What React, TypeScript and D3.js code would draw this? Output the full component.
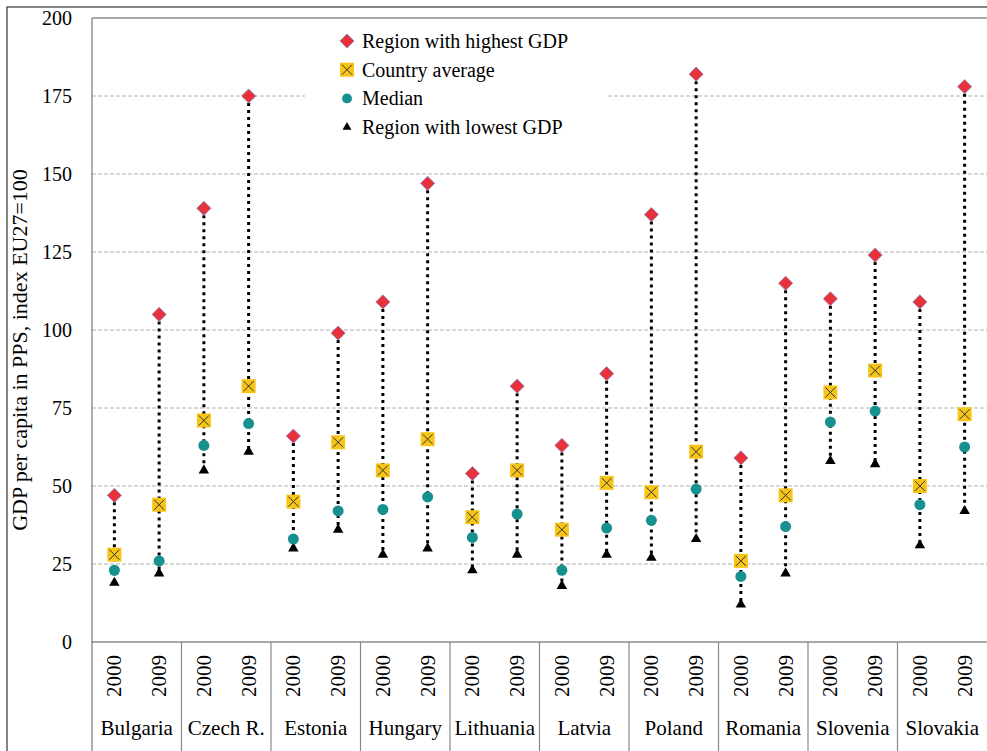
import React, { useRef, useEffect } from 'react';
import * as d3 from 'd3';

const countries = ['Bulgaria', 'Czech R.', 'Estonia', 'Hungary', 'Lithuania', 'Latvia', 'Poland', 'Romania', 'Slovenia', 'Slovakia'];
const years = ['2000', '2009'];
const highest = [47, 105, 139, 175, 66, 99, 109, 147, 54, 82, 63, 86, 137, 182, 59, 115, 110, 124, 109, 178];
const average = [28, 44, 71, 82, 45, 64, 55, 65, 40, 55, 36, 51, 48, 61, 26, 47, 80, 87, 50, 73];
const median = [23, 26, 63, 70, 33, 42, 42.5, 46.5, 33.5, 41, 23, 36.5, 39, 49, 21, 37, 70.5, 74, 44, 62.5];
const lowest = [19, 22, 55, 61, 30, 36, 28, 30, 23, 28, 18, 28, 27, 33, 12, 22, 58, 57, 31, 42];
const yTicks = [0, 25, 50, 75, 100, 125, 150, 175, 200];
const legendItems = ['Region with highest GDP', 'Country average', 'Median', 'Region with lowest GDP'];

const W = 987;
const H = 751;
const FONT = '"Liberation Serif", serif';
const RED = '#e8313a';
const GOLD = '#f7c518';
const TEAL = '#17918f';

const App = () => {
  const svgRef = useRef<SVGSVGElement>(null);

  useEffect(() => {
    const svg = d3.select(svgRef.current);
    svg.selectAll('*').remove();

    const left = 92;
    const right = 987;
    const top = 18;
    const bottom = 642;

    const keys = countries.flatMap((c) => years.map((y) => `${c}|${y}`));
    const x = d3.scaleBand<string>().domain(keys).range([left, right]);
    const xc = d3.scaleBand<string>().domain(countries).range([left, right]);
    const y = d3.scaleLinear().domain([0, 200]).range([bottom, top]);
    const cx = (i: number) => (x(keys[i]) as number) + x.bandwidth() / 2;

    // outer frame
    svg.append('rect').attr('x', 7).attr('y', 7).attr('width', W).attr('height', H)
      .attr('fill', 'none').attr('stroke', '#333').attr('stroke-width', 1.2);

    // grid
    svg.append('g').selectAll('line').data(yTicks.filter((t) => t > 0 && t < 200)).join('line')
      .attr('x1', left).attr('x2', right)
      .attr('y1', (d) => y(d)).attr('y2', (d) => y(d))
      .attr('stroke', '#b0b0b0').attr('stroke-width', 1).attr('stroke-dasharray', '4,2');

    // plot frame top
    svg.append('line').attr('x1', left).attr('x2', right).attr('y1', top).attr('y2', top)
      .attr('stroke', '#555').attr('stroke-width', 1.2);

    // y ticks labels
    svg.append('g').selectAll('text').data(yTicks).join('text')
      .attr('x', 72).attr('y', (d) => y(d) + 7)
      .attr('text-anchor', 'end').attr('font-family', FONT).attr('font-size', 20)
      .text((d) => d);

    // y title
    svg.append('text')
      .attr('transform', `translate(27, ${(top + bottom) / 2 + 20}) rotate(-90)`)
      .attr('text-anchor', 'middle').attr('font-family', FONT).attr('font-size', 22)
      .text('GDP per capita in PPS, index EU27=100');

    // axes
    svg.append('line').attr('x1', left).attr('x2', left).attr('y1', top).attr('y2', H)
      .attr('stroke', '#777').attr('stroke-width', 1.2);
    svg.append('line').attr('x1', left).attr('x2', right).attr('y1', bottom).attr('y2', bottom)
      .attr('stroke', '#555').attr('stroke-width', 1.2);
    svg.append('g').selectAll('line').data(countries.slice(1)).join('line')
      .attr('x1', (d) => xc(d) as number).attr('x2', (d) => xc(d) as number)
      .attr('y1', bottom).attr('y2', H)
      .attr('stroke', '#888').attr('stroke-width', 1.2);

    // year labels
    svg.append('g').selectAll('text').data(keys).join('text')
      .attr('transform', (d) => `translate(${(x(d) as number) + x.bandwidth() / 2 + 7}, 655) rotate(-90)`)
      .attr('text-anchor', 'end').attr('font-family', FONT).attr('font-size', 21)
      .text((d) => d.split('|')[1]);

    // country labels
    svg.append('g').selectAll('text').data(countries).join('text')
      .attr('x', (d) => (xc(d) as number) + xc.bandwidth() / 2).attr('y', 735)
      .attr('text-anchor', 'middle').attr('font-family', FONT).attr('font-size', 21)
      .text((d) => d);

    // legend box
    svg.append('rect').attr('x', 305).attr('y', top + 1).attr('width', 302).attr('height', 121)
      .attr('fill', '#fff');

    const g = svg.append('g');
    const idx = d3.range(keys.length);

    // connecting dotted lines
    g.selectAll('line.range').data(idx).join('line')
      .attr('x1', cx).attr('x2', cx)
      .attr('y1', (i) => y(highest[i])).attr('y2', (i) => y(lowest[i]))
      .attr('stroke', '#000').attr('stroke-width', 3).attr('stroke-dasharray', '3,4');

    const tri = d3.symbol().type(d3.symbolTriangle).size(48);
    const drawLow = (sel: any) => sel.append('path').attr('d', tri()).attr('fill', '#000');
    const drawMed = (sel: any) => sel.append('circle').attr('r', 5.5).attr('fill', TEAL);
    const drawAvg = (sel: any) => {
      sel.append('rect').attr('x', -7).attr('y', -7).attr('width', 14).attr('height', 14).attr('fill', GOLD);
      sel.append('path').attr('d', 'M-5,-5L5,5M5,-5L-5,5').attr('stroke', '#333').attr('stroke-width', 1);
    };
    const drawHigh = (sel: any) => sel.append('rect').attr('x', -5).attr('y', -5).attr('width', 10).attr('height', 10)
      .attr('transform', 'rotate(45)').attr('fill', RED).attr('stroke', '#8a86b8').attr('stroke-width', 0.8);

    const layer = (vals: number[], draw: (s: any) => void) => {
      g.append('g').selectAll('g').data(idx).join('g')
        .attr('transform', (i) => `translate(${cx(i)},${y(vals[i])})`)
        .each(function () { draw(d3.select(this)); });
    };
    layer(lowest, drawLow);
    layer(median, drawMed);
    layer(average, drawAvg);
    layer(highest, drawHigh);

    // legend
    const drawers = [drawHigh, drawAvg, drawMed, drawLow];
    const lg = svg.append('g');
    legendItems.forEach((label, i) => {
      const row = lg.append('g').attr('transform', `translate(347, ${41 + i * 28.7})`);
      const m = row.append('g');
      if (i === 2) m.attr('transform', 'scale(0.9)');
      if (i === 3) m.attr('transform', 'scale(0.85)');
      drawers[i](m);
      row.append('text').attr('x', 15).attr('y', 7).attr('font-family', FONT).attr('font-size', 20).text(label);
    });
  }, []);

  return (
    <svg ref={svgRef} width={W} height={H} style={{ position: 'absolute', left: 0, top: 0, background: '#fff' }} />
  );
};

export default App;
